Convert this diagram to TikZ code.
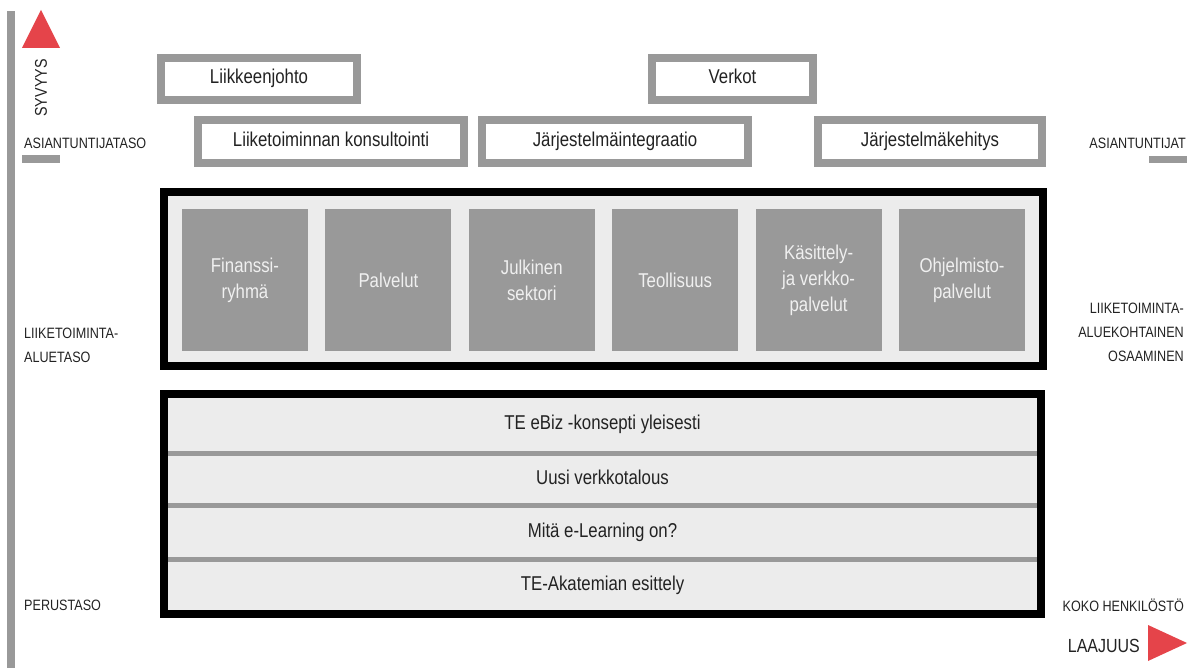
\documentclass[tikz,border=0pt]{standalone}
\usepackage{fontspec}
\setmainfont{Liberation Sans}[FakeStretch=0.84]
\usepackage{xcolor}
\usepackage{tikz}
\usetikzlibrary{positioning,calc}

\definecolor{boxgray}{HTML}{999999}
\definecolor{panelgray}{HTML}{ECECEC}
\definecolor{arrowred}{HTML}{E5444A}
\definecolor{labeltext}{HTML}{222222}

\tikzset{
    expertbox/.style={draw=boxgray, line width=8pt, fill=white, inner sep=0pt,
        minimum height=42pt, text height=14pt, text depth=4pt,
        font=\fontsize{20}{24}\selectfont, text=labeltext},
    areatile/.style={fill=boxgray, minimum width=126pt, minimum height=142pt,
        inner sep=0pt, align=center, text=white!94!black,
        font=\fontsize{20}{26}\selectfont},
    sidelabel/.style={font=\fontsize{15}{24}\selectfont, text=labeltext, inner sep=0pt},
    rowlabel/.style={font=\fontsize{20}{24}\selectfont, text=labeltext,
        text height=14pt, text depth=4pt, inner sep=0pt},
    panel/.style={draw=black, line width=8pt, fill=panelgray, inner sep=0pt}
}

\begin{document}
\begin{tikzpicture}[x=1pt, y=-1pt]
    \useasboundingbox (0,0) rectangle (1193,668);

    % depth axis
    \fill[boxgray] (7,11) rectangle (15,668);
    \fill[arrowred] (22,48) -- (60,48) -- (41,10) -- cycle;
    \node[sidelabel, font=\fontsize{17}{20}\selectfont, rotate=90] (depth) at (41,88) {SYVYYS};

    % level labels
    \node[sidelabel, anchor=west] (expertlevel) at (24,143) {ASIANTUNTIJATASO};
    \fill[boxgray] (22,155) rectangle (60,163);
    \node[sidelabel, anchor=west, align=left] (arealevel) at (24,345) {LIIKETOIMINTA-\\ALUETASO};
    \node[sidelabel, anchor=west] (baselevel) at (24,605) {PERUSTASO};

    \node[sidelabel, anchor=east] (experts) at (1186,143) {ASIANTUNTIJAT};
    \fill[boxgray] (1149,156) rectangle (1187,163);
    \node[sidelabel, anchor=east, align=right] (areaskills) at (1184,332) {LIIKETOIMINTA-\\ALUEKOHTAINEN\\OSAAMINEN};
    \node[sidelabel, anchor=east] (allstaff) at (1184,605) {KOKO HENKILÖSTÖ};

    % breadth axis
    \node[sidelabel, font=\fontsize{19}{20}\selectfont, anchor=east] (breadth) at (1140,646) {LAAJUUS};
    \fill[arrowred] (1148,625) -- (1148,661) -- (1187,643) -- cycle;

    % expert level
    \node[expertbox, minimum width=196pt] (mgmt) at (259,79) {Liikkeenjohto};
    \node[expertbox, minimum width=161pt] (networks) at (732.5,79) {Verkot};
    \node[expertbox, minimum width=266pt, minimum height=43pt] (consulting) at (331,141.5) {Liiketoiminnan konsultointi};
    \node[expertbox, minimum width=266pt, minimum height=43pt] (integration) at (615,141.5) {Järjestelmäintegraatio};
    \node[expertbox, minimum width=224pt, minimum height=43pt] (development) at (930,141.5) {Järjestelmäkehitys};

    % business area level
    \node[panel, minimum width=879pt, minimum height=174pt] (areapanel) at (603.5,279) {};
    \foreach \txt [count=\i] in {{Finanssi-\\ryhmä}, {Palvelut}, {Julkinen\\sektori}, {Teollisuus},
        {Käsittely-\\ja verkko-\\palvelut}, {Ohjelmisto-\\palvelut}}
        \node[areatile] (tile\i) at ({245+143.4*(\i-1)},280) {\txt};

    % basic level
    \node[panel, minimum width=877pt, minimum height=220pt] (basepanel) at (602.5,504) {};
    \foreach \y in {453,505.5,559.5}
        \draw[boxgray, line width=5pt] (168,\y) -- (1037,\y);
    \node[rowlabel] (ebiz) at (602.5,424) {TE eBiz -konsepti yleisesti};
    \node[rowlabel] (neweconomy) at (602.5,479) {Uusi verkkotalous};
    \node[rowlabel] (elearning) at (602.5,532) {Mitä e-Learning on?};
    \node[rowlabel] (academy) at (602.5,585) {TE-Akatemian esittely};
\end{tikzpicture}
\end{document}
